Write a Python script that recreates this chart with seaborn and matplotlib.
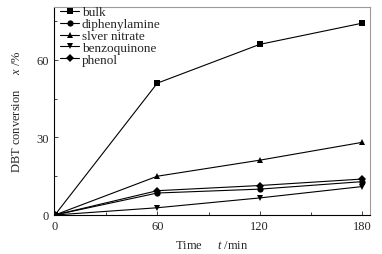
import matplotlib
matplotlib.use("Agg")
import matplotlib.pyplot as plt
import seaborn as sns
import pandas as pd
from matplotlib.ticker import MultipleLocator

sns.set_style("ticks")
plt.rcParams['font.family'] = ['Liberation Serif', 'DejaVu Serif']
plt.rcParams['mathtext.fontset'] = 'custom'
plt.rcParams['mathtext.rm'] = 'Liberation Serif'
plt.rcParams['mathtext.it'] = 'Liberation Serif:italic'

time = [0, 60, 120, 180]
bulk = [0, 51.0, 66.0, 74.2]
diphenylamine = [0, 8.5, 10.0, 12.9]
silver_nitrate = [0, 15.0, 21.2, 28.1]
benzoquinone = [0, 2.8, 6.6, 11.0]
phenol = [0, 9.4, 11.4, 13.9]
series_names = ["bulk", "diphenylamine", "slver nitrate", "benzoquinone", "phenol"]
series_values = [bulk, diphenylamine, silver_nitrate, benzoquinone, phenol]
marker_list = ["s", "o", "^", "v", "D"]

rows = []
for name, vals in zip(series_names, series_values):
    for t, v in zip(time, vals):
        rows.append({"t": t, "x": v, "series": name})
df = pd.DataFrame(rows)

fig = plt.figure(figsize=(3.82, 2.55), dpi=100)
ax = fig.add_axes([0.141, 0.153, 0.828, 0.816])

sns.lineplot(data=df, x="t", y="x", style="series", hue="series",
             palette=["black"] * 5, markers=dict(zip(series_names, marker_list)),
             dashes=False, markersize=4.5, linewidth=0.8, markeredgewidth=0,
             ax=ax, style_order=series_names, hue_order=series_names)

ax.set_xlim(-0.6, 184.7)
ax.set_ylim(0, 80.5)
ax.xaxis.set_major_locator(MultipleLocator(60))
ax.xaxis.set_minor_locator(MultipleLocator(30))
ax.yaxis.set_major_locator(MultipleLocator(30))
ax.yaxis.set_minor_locator(MultipleLocator(15))
ax.tick_params(which="both", direction="in", labelsize=9, width=0.6)
ax.tick_params(which="major", length=3)
ax.tick_params(which="minor", length=2)
for k, s in ax.spines.items():
    s.set_linewidth(0.8)
    s.set_color("black" if k in ("left", "bottom") else "#9a9a9a")

ax.set_xlabel("Time     $\\it{t}$ /min", fontsize=9, labelpad=5)
ax.set_ylabel("DBT conversion     $\\it{x}$ /%", fontsize=9, labelpad=10)

handles, labels = ax.get_legend_handles_labels()
leg = ax.legend(handles, labels, loc="upper left", frameon=False, fontsize=9.5,
                handlelength=1.4, handletextpad=0.2, labelspacing=-0.03,
                borderaxespad=0.1, bbox_to_anchor=(0.0, 1.035))

fig.savefig("out.png", dpi=100)
